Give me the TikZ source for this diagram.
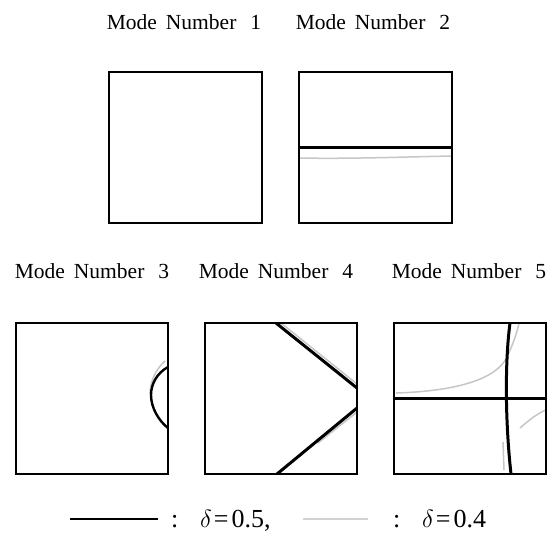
\documentclass[tikz,border=0pt]{standalone}
\usepackage{fontspec}
\setmainfont{Liberation Serif}
\newcommand\modetitle[1]{Mode\hspace{9pt}Number\hspace{14pt}#1}
\newcommand\deltaval[1]{$\delta$\hspace{2pt}=\hspace{3pt}#1}
\begin{document}
\begin{tikzpicture}[x=1pt,y=-1pt,
  frame/.style={draw=black, line width=1.8pt},
  modeA/.style={line width=3pt, black},
  modeB/.style={line width=1.5pt, gray!45},
  title/.style={anchor=base, inner sep=0pt, font=\fontsize{21.5}{25}\selectfont},
  legend/.style={anchor=base west, inner sep=0pt, font=\fontsize{26}{30}\selectfont}]
\useasboundingbox (0,0) rectangle (553,542);

% titles
\node[title] (t1) at (184,29) {\modetitle{1}};
\node[title] (t2) at (373,29) {\modetitle{2}};
\node[title] (t3) at (92,278) {\modetitle{3}};
\node[title] (t4) at (276,278) {\modetitle{4}};
\node[title] (t5) at (469,278) {\modetitle{5}};

% box 2 lines
\draw[modeB] (299,158) .. controls (350,159) and (400,157) .. (452,156);
\draw[modeA] (299,147) -- (452,147);

% box 3 arc
\draw[modeB] (165,361) .. controls (157,368) and (150,380) .. (150,394);
\draw[modeA, line width=2.4pt] (168,367) .. controls (157,373) and (151,384) .. (151,395) .. controls (151,408) and (159,421) .. (168,428);

% box 4 lines
\draw[modeB] (281,323) -- (357,384);
\draw[modeB] (357,412) -- (318,443);
\draw[modeA] (276,323) -- (357,388);
\draw[modeA] (277,474) -- (357,408);

% box 5 lines
\draw[modeB] (396,393) .. controls (460,391) and (497,378) .. (507,357) .. controls (513,344) and (517,333) .. (519,323);
\draw[modeB] (520,428) .. controls (529,420) and (538,413) .. (546,410);
\draw[modeB] (503,442) -- (504,470);
\draw[modeA] (394,398) -- (546,398);
\draw[modeA] (510,323) .. controls (505,360) and (505,420) .. (511,474);

% frames
\draw[frame] (109,72) rectangle (262,223);
\draw[frame] (299,72) rectangle (452,223);
\draw[frame] (16,323) rectangle (168,474);
\draw[frame] (205,323) rectangle (357,474);
\draw[frame] (394,323) rectangle (546,474);

% legend
\draw[black, line width=2.2pt] (70,519) -- (158,519);
\draw[gray!35, line width=1.5pt] (303,519) -- (368,519);
\node[legend] (c1) at (171,527) {:};
\node[legend] (d1) at (200,527) {\deltaval{0.5,}};
\node[legend] (c2) at (393,527) {:};
\node[legend] (d2) at (422,527) {\deltaval{0.4}};
\end{tikzpicture}
\end{document}
